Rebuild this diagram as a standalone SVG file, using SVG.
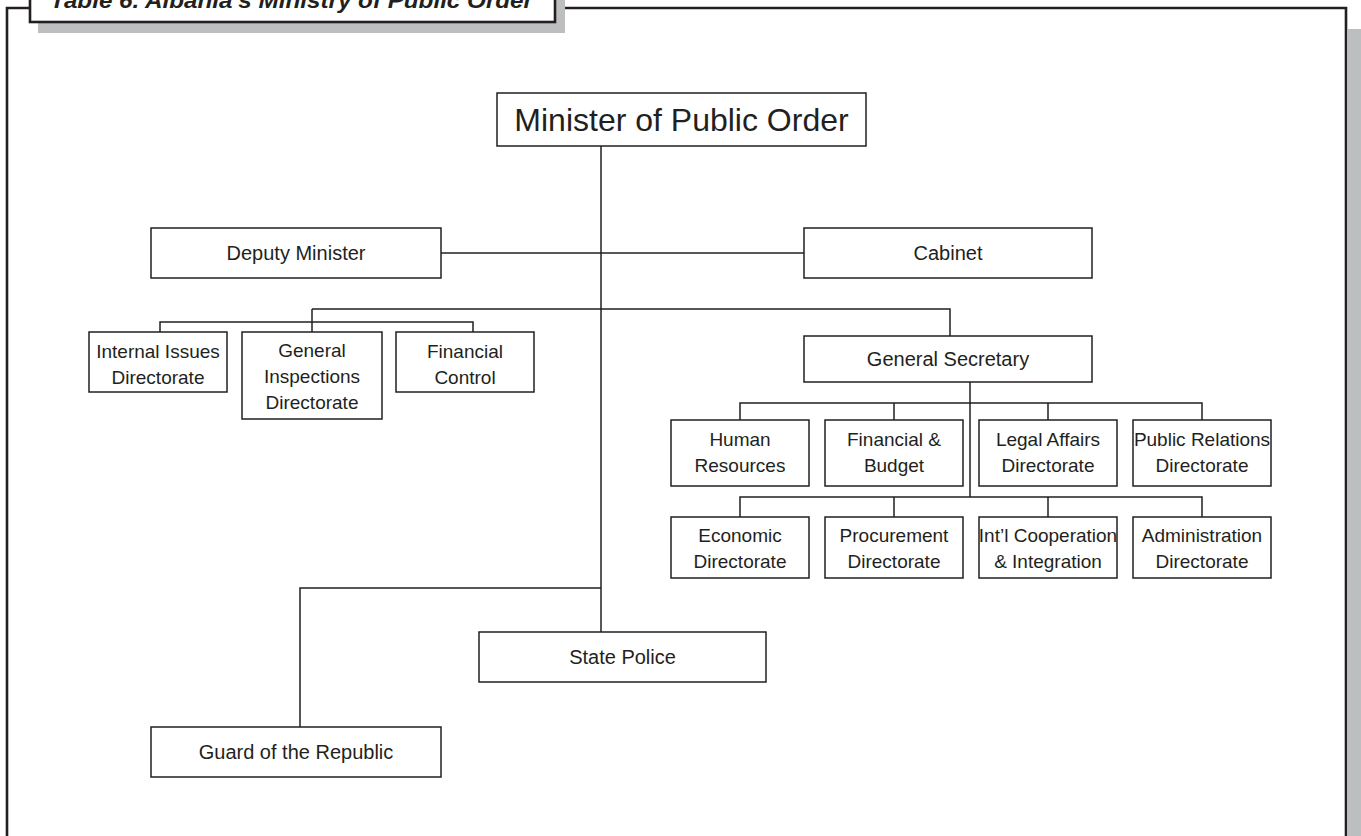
<svg xmlns="http://www.w3.org/2000/svg" width="1361" height="836" viewBox="0 0 1361 836">
<style>
.box{fill:#fff;stroke:#231f20;stroke-width:1.5}
.ln{fill:none;stroke:#231f20;stroke-width:1.5}
.frame{fill:none;stroke:#231f20;stroke-width:2.6}
.sh{fill:#bcbec0}
text{font-family:"Liberation Sans",Arial,sans-serif;fill:#231f20;text-anchor:middle}
.t19{font-size:19px}
.t20{font-size:20px}
.t32{font-size:32px}
.ttl{font-size:22px;font-weight:bold;font-style:italic;text-anchor:start}
</style>
<rect width="1361" height="836" fill="#fff"/>
<g id="frame">
<rect class="sh" x="1348" y="29" width="13" height="807"/>
<path class="frame" d="M7,836 V8 H30 M555,8 H1346 V836"/>
<rect class="sh" x="38" y="-20" width="527" height="53"/>
<rect x="30" y="-30" width="525" height="52" fill="#fff" stroke="#231f20" stroke-width="2.6"/>
<text class="ttl" x="50" y="8" textLength="483" lengthAdjust="spacingAndGlyphs">Table 6. Albania's Ministry of Public Order</text>
</g>
<g id="connectors">
<path class="ln" d="M601,146 V632"/>
<path class="ln" d="M441,253 H804"/>
<path class="ln" d="M312,309 H950 V336"/>
<path class="ln" d="M312,309 V332"/>
<path class="ln" d="M160,332 V322 H473 V332"/>
<path class="ln" d="M970,382 V497"/>
<path class="ln" d="M740,420 V403 H1202 V420 M894,403 V420 M1048,403 V420"/>
<path class="ln" d="M740,517 V497 H1202 V517 M894,497 V517 M1048,497 V517"/>
<path class="ln" d="M601,588 H300 V727"/>
</g>
<g id="minister"><rect class="box" x="497" y="93" width="369" height="53"/><text class="t32" x="681.5" y="131">Minister of Public Order</text></g>
<g id="deputy"><rect class="box" x="151" y="228" width="290" height="50"/><text class="t20" x="296" y="260">Deputy Minister</text></g>
<g id="cabinet"><rect class="box" x="804" y="228" width="288" height="50"/><text class="t20" x="948" y="260">Cabinet</text></g>
<g id="internal"><rect class="box" x="89" y="332" width="138" height="60"/><text class="t19" x="158" y="358">Internal Issues</text><text class="t19" x="158" y="384">Directorate</text></g>
<g id="inspections"><rect class="box" x="242" y="332" width="140" height="87"/><text class="t19" x="312" y="357">General</text><text class="t19" x="312" y="383">Inspections</text><text class="t19" x="312" y="409">Directorate</text></g>
<g id="fincontrol"><rect class="box" x="396" y="332" width="138" height="60"/><text class="t19" x="465" y="358">Financial</text><text class="t19" x="465" y="384">Control</text></g>
<g id="gensec"><rect class="box" x="804" y="336" width="288" height="46"/><text class="t20" x="948" y="366">General Secretary</text></g>
<g id="hr"><rect class="box" x="671" y="420" width="138" height="66"/><text class="t19" x="740" y="446">Human</text><text class="t19" x="740" y="472">Resources</text></g>
<g id="finbudget"><rect class="box" x="825" y="420" width="138" height="66"/><text class="t19" x="894" y="446">Financial &amp;</text><text class="t19" x="894" y="472">Budget</text></g>
<g id="legal"><rect class="box" x="979" y="420" width="138" height="66"/><text class="t19" x="1048" y="446">Legal Affairs</text><text class="t19" x="1048" y="472">Directorate</text></g>
<g id="pr"><rect class="box" x="1133" y="420" width="138" height="66"/><text class="t19" x="1202" y="446">Public Relations</text><text class="t19" x="1202" y="472">Directorate</text></g>
<g id="economic"><rect class="box" x="671" y="517" width="138" height="61"/><text class="t19" x="740" y="542">Economic</text><text class="t19" x="740" y="568">Directorate</text></g>
<g id="procurement"><rect class="box" x="825" y="517" width="138" height="61"/><text class="t19" x="894" y="542">Procurement</text><text class="t19" x="894" y="568">Directorate</text></g>
<g id="intl"><rect class="box" x="979" y="517" width="138" height="61"/><text class="t19" x="1048" y="542">Int’l Cooperation</text><text class="t19" x="1048" y="568">&amp; Integration</text></g>
<g id="admin"><rect class="box" x="1133" y="517" width="138" height="61"/><text class="t19" x="1202" y="542">Administration</text><text class="t19" x="1202" y="568">Directorate</text></g>
<g id="police"><rect class="box" x="479" y="632" width="287" height="50"/><text class="t20" x="622.5" y="664">State Police</text></g>
<g id="guard"><rect class="box" x="151" y="727" width="290" height="50"/><text class="t20" x="296" y="759">Guard of the Republic</text></g>
</svg>
